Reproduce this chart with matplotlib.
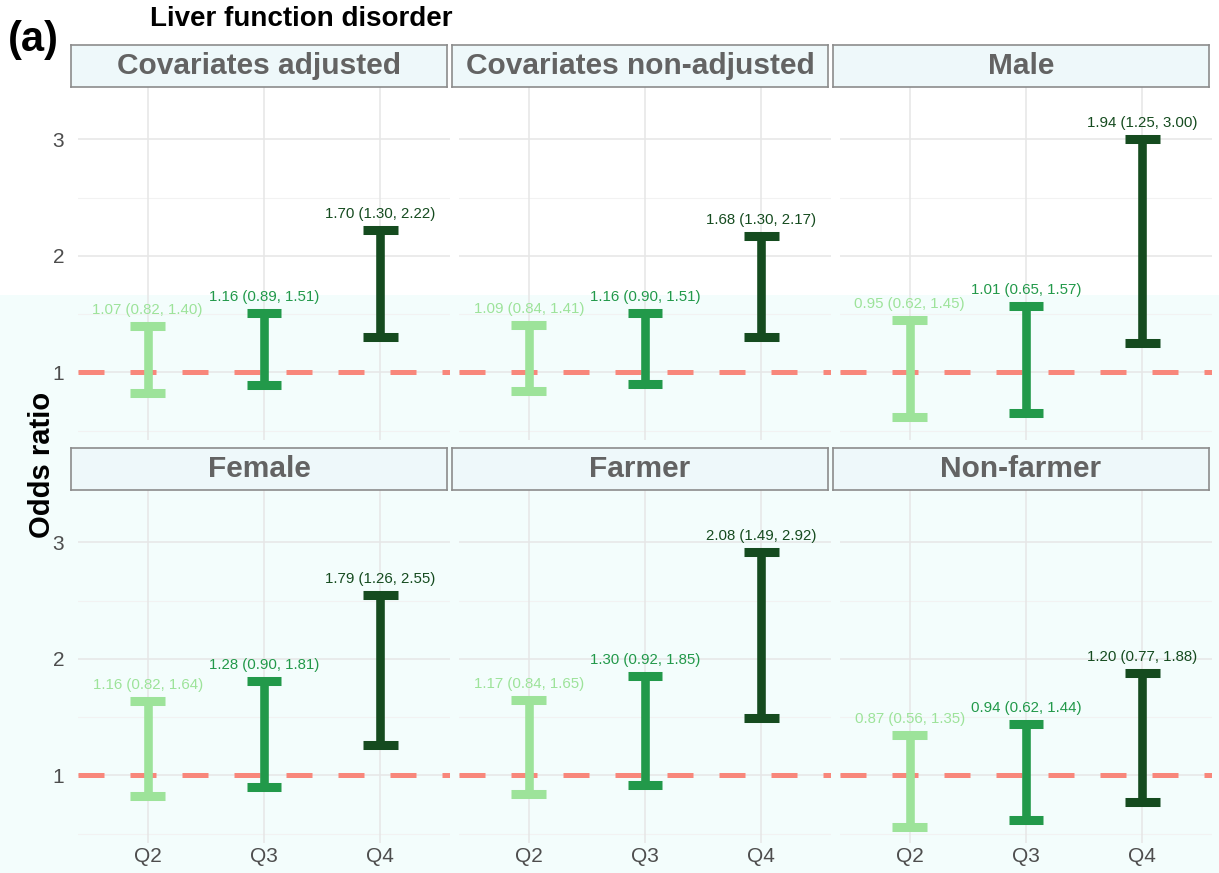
import matplotlib
matplotlib.use("Agg")
import matplotlib.pyplot as plt
from matplotlib.patches import Rectangle

plt.rcParams["font.family"] = ["Liberation Sans", "DejaVu Sans"]

# ---------------- data ----------------
panels = ["Covariates adjusted", "Covariates non-adjusted", "Male",
          "Female", "Farmer", "Non-farmer"]
quartiles = ["Q2", "Q3", "Q4"]
or_values = [
    [1.07, 1.16, 1.70],
    [1.09, 1.16, 1.68],
    [0.95, 1.01, 1.94],
    [1.16, 1.28, 1.79],
    [1.17, 1.30, 2.08],
    [0.87, 0.94, 1.20],
]
ci_low = [
    [0.82, 0.89, 1.30],
    [0.84, 0.90, 1.30],
    [0.62, 0.65, 1.25],
    [0.82, 0.90, 1.26],
    [0.84, 0.92, 1.49],
    [0.56, 0.62, 0.77],
]
ci_high = [
    [1.40, 1.51, 2.22],
    [1.41, 1.51, 2.17],
    [1.45, 1.57, 3.00],
    [1.64, 1.81, 2.55],
    [1.65, 1.85, 2.92],
    [1.35, 1.44, 1.88],
]
y_ticks = [1, 2, 3]
colors = ["#9de39a", "#22994a", "#154b1f"]

# ---------------- layout ----------------
W, H = 1219, 873
fig = plt.figure(figsize=(W / 100, H / 100), dpi=100)
fig.patch.set_facecolor("white")
# faint tint in the lower part of the picture
fig.patches.append(Rectangle((0, 0), 1, 1 - 295 / H, transform=fig.transFigure,
                             facecolor="#f3fdfc", edgecolor="none", zorder=-10))

col_left = [78, 459, 840]
panel_w = 372
row_top = [87, 490]
panel_h = 353
strip_h = 42

def fx(px):
    return px / W

def fy(py):
    return 1 - py / H

for i, name in enumerate(panels):
    r, c = divmod(i, 3)
    left = col_left[c]
    top = row_top[r]
    ax = fig.add_axes([fx(left), fy(top + panel_h), panel_w / W, panel_h / H])
    ax.set_facecolor("none")
    x = list(range(1, len(quartiles) + 1))
    ax.set_xlim(0.4, 3.6)
    ax.set_ylim(0.42, 3.45)

    # grid
    for yv in [0.5, 1.5, 2.5]:
        ax.axhline(yv, color="#f2f2f2", lw=0.8, zorder=0)
    for yv in y_ticks:
        ax.axhline(yv, color="#e6e6e6", lw=1.1, zorder=0)
    for xv in x:
        ax.axvline(xv, color="#e6e6e6", lw=1.1, zorder=0)

    # reference line
    ax.axhline(1, color="#f8877b", lw=3.6, ls=(0, (5.2, 5.2)), zorder=1)

    # error bars
    for j in range(len(quartiles)):
        lo, hi, est = ci_low[i][j], ci_high[i][j], or_values[i][j]
        col = colors[j]
        ax.vlines(x[j], lo, hi, color=col, lw=6.2, zorder=3)
        ax.hlines([lo, hi], x[j] - 0.15, x[j] + 0.15, color=col, lw=6.5, zorder=3)
        ax.annotate(f"{est:.2f} ({lo:.2f}, {hi:.2f})", xy=(x[j], hi),
                    xytext=(0, 11.5), textcoords="offset points",
                    ha="center", va="center", fontsize=10.8, color=col, zorder=4)

    for s in ax.spines.values():
        s.set_visible(False)
    ax.tick_params(length=0)
    ax.set_yticks(y_ticks)
    ax.set_xticks(x)
    if c == 0:
        ax.set_yticklabels([str(v) for v in y_ticks], fontsize=15, color="#4d4d4d")
        ax.tick_params(axis="y", pad=10)
    else:
        ax.set_yticklabels([])
    if r == 1:
        ax.set_xticklabels(quartiles, fontsize=15, color="#4d4d4d")
        ax.tick_params(axis="x", pad=3)
    else:
        ax.set_xticklabels([])

    # strip
    sax = fig.add_axes([fx(left - 7), fy(top), (panel_w + 4) / W, strip_h / H])
    sax.set_xticks([])
    sax.set_yticks([])
    sax.set_facecolor("#eef8fa")
    for s in sax.spines.values():
        s.set_edgecolor("#8c8c8c")
        s.set_linewidth(1.2)
    sax.text(0.5, 0.5, name, ha="center", va="center", fontsize=21.5,
             fontweight="bold", color="#636363", transform=sax.transAxes)

fig.text(fx(150), fy(19), "Liver function disorder", ha="left", va="center",
         fontsize=20, fontweight="bold", color="black")
fig.text(fx(8), fy(40), "(a)", ha="left", va="center",
         fontsize=30, fontweight="bold", color="black")
fig.text(fx(42), fy(465), "Odds ratio", ha="center", va="center", rotation=90,
         fontsize=21, fontweight="bold", color="black")

fig.savefig("out.png", dpi=100, facecolor=fig.get_facecolor())
